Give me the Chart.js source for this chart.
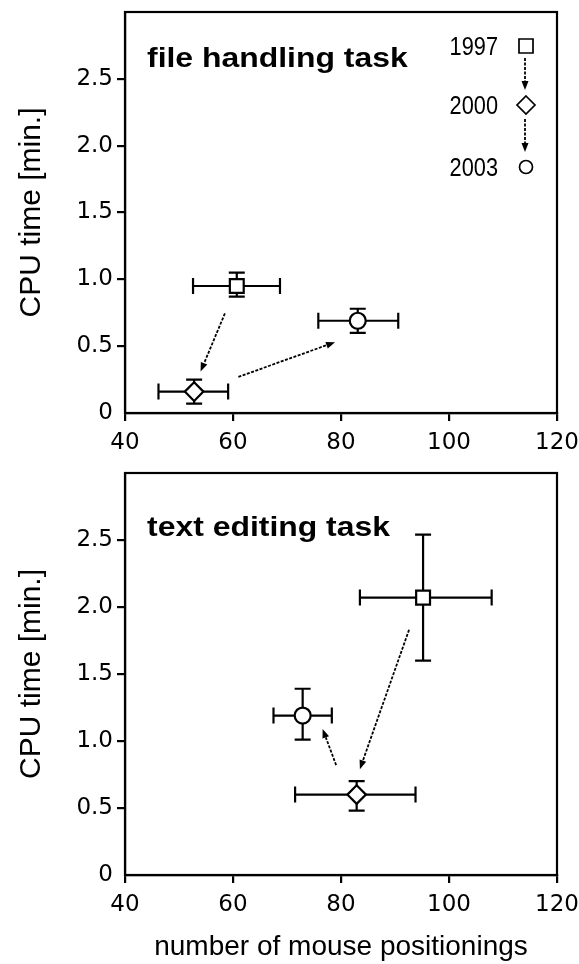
<!DOCTYPE html>
<html>
<head>
<meta charset="utf-8">
<script src="https://cdn.jsdelivr.net/npm/chart.js@4.4.1/dist/chart.umd.min.js"></script>
<style>
body { margin: 0; background: #fff; }
.box { width: 579px; position: relative; }
canvas { display: block; }
</style>
</head>
<body>
<div class="box" style="height:461px"><canvas id="fileChart"></canvas></div>
<div class="box" style="height:503px"><canvas id="textChart"></canvas></div>
<script>
// order of points: 1997, 2000, 2003
const years = ['1997', '2000', '2003'];
const xTicks = [40, 60, 80, 100, 120];
const yTicks = [0, 0.5, 1, 1.5, 2, 2.5];
const yTickLabels = ['0', '0.5', '1.0', '1.5', '2.0', '2.5'];

// file handling task
const fileX     = [60.7, 52.8, 83.1];
const fileY     = [0.95, 0.16, 0.69];
const fileXLow  = [52.6, 46.2, 75.8];
const fileXHigh = [68.7, 59.1, 90.6];
const fileYLow  = [0.87, 0.07, 0.60];
const fileYHigh = [1.05, 0.25, 0.78];
// arrows as [x0, y0, x1, y1] in data units
const fileArrows = [[58.5, 0.745, 54.0, 0.31], [61.0, 0.27, 78.9, 0.53]];

// text editing task
const textX     = [95.2, 82.9, 72.9];
const textY     = [2.07, 0.60, 1.19];
const textXLow  = [83.5, 71.5, 67.5];
const textXHigh = [107.9, 93.8, 78.3];
const textYLow  = [1.60, 0.48, 1.01];
const textYHigh = [2.54, 0.70, 1.39];
const textArrows = [[92.6, 1.83, 83.5, 0.79], [79.1, 0.82, 76.6, 1.09]];

Chart.defaults.font.family = 'DejaVu Sans';
Chart.defaults.color = '#000';

function drawArrow(ctx, x0, y0, x1, y1) {
  const ang = Math.atan2(y1 - y0, x1 - x0);
  const len = 9, half = 3.5;
  const bx = x1 - len * Math.cos(ang), by = y1 - len * Math.sin(ang);
  ctx.lineWidth = 1.8;
  ctx.setLineDash([3, 1.5]);
  ctx.beginPath();
  ctx.moveTo(x0, y0);
  ctx.lineTo(bx, by);
  ctx.stroke();
  ctx.setLineDash([]);
  ctx.beginPath();
  ctx.moveTo(x1, y1);
  ctx.lineTo(bx - half * Math.sin(ang), by + half * Math.cos(ang));
  ctx.lineTo(bx + half * Math.sin(ang), by - half * Math.cos(ang));
  ctx.closePath();
  ctx.fill();
}

function stretchedText(ctx, str, x, y, font, sx, align) {
  ctx.save();
  ctx.font = font;
  ctx.textBaseline = 'alphabetic';
  const w = ctx.measureText(str).width * sx;
  const left = align === 'right' ? x - w : x;
  ctx.translate(left, y);
  ctx.scale(sx, 1);
  ctx.fillText(str, 0, 0);
  ctx.restore();
}

function drawLegend(ctx, a) {
  const tx = a.right - 59, mx = a.right - 31;
  const rows = [a.top + 34, a.top + 93, a.top + 155];
  ctx.lineWidth = 1.7;
  rows.forEach((ry, i) => {
    stretchedText(ctx, years[i], tx, ry + 9, '25px "Liberation Sans"', 0.87, 'right');
    ctx.beginPath();
    if (i === 0) ctx.rect(mx - 7, ry - 7, 14, 14);
    if (i === 1) { ctx.moveTo(mx, ry - 9); ctx.lineTo(mx + 9, ry); ctx.lineTo(mx, ry + 9); ctx.lineTo(mx - 9, ry); ctx.closePath(); }
    if (i === 2) ctx.arc(mx, ry, 6.5, 0, Math.PI * 2);
    ctx.stroke();
  });
  drawArrow(ctx, mx - 1, a.top + 46, mx - 1, a.top + 78);
  drawArrow(ctx, mx - 1, a.top + 107, mx - 1, a.top + 140);
}

function panelPlugin(title, titleDy, xl, xh, yl, yh, xs, ys, arrows, legend) {
  return {
    id: 'panel',
    beforeDatasetsDraw(chart) {
      const { ctx, chartArea: a, scales: { x, y } } = chart;
      ctx.save();
      ctx.strokeStyle = '#000';
      ctx.fillStyle = '#000';
      ctx.lineWidth = 2.2;
      ctx.strokeRect(a.left, a.top, a.right - a.left, a.bottom - a.top);
      const cap = 8;
      for (let i = 0; i < xs.length; i++) {
        const px = x.getPixelForValue(xs[i]), py = y.getPixelForValue(ys[i]);
        const x0 = x.getPixelForValue(xl[i]), x1 = x.getPixelForValue(xh[i]);
        const y0 = y.getPixelForValue(yl[i]), y1 = y.getPixelForValue(yh[i]);
        ctx.beginPath();
        ctx.moveTo(x0, py); ctx.lineTo(x1, py);
        ctx.moveTo(x0, py - cap); ctx.lineTo(x0, py + cap);
        ctx.moveTo(x1, py - cap); ctx.lineTo(x1, py + cap);
        ctx.moveTo(px, y0); ctx.lineTo(px, y1);
        ctx.moveTo(px - cap, y0); ctx.lineTo(px + cap, y0);
        ctx.moveTo(px - cap, y1); ctx.lineTo(px + cap, y1);
        ctx.stroke();
      }
      arrows.forEach(r => drawArrow(ctx,
        x.getPixelForValue(r[0]), y.getPixelForValue(r[1]),
        x.getPixelForValue(r[2]), y.getPixelForValue(r[3])));
      ctx.restore();
    },
    afterDraw(chart) {
      const { ctx, chartArea: a } = chart;
      ctx.save();
      ctx.fillStyle = '#000';
      ctx.strokeStyle = '#000';
      stretchedText(ctx, title, a.left + 22, a.top + titleDy, 'bold 28px "Liberation Sans"', 1.14, 'left');
      if (legend) drawLegend(ctx, a);
      ctx.restore();
    }
  };
}

function makeChart(id, xs, ys, xl, xh, yl, yh, arrows, title, titleDy, xHeight, showXTitle, legend) {
  const pts = xs.map((v, i) => ({ x: v, y: ys[i] }));
  return new Chart(document.getElementById(id), {
    type: 'scatter',
    data: {
      datasets: [{
        data: pts,
        pointStyle: ['rect', 'rectRot', 'circle'],
        pointRadius: [9.8, 9.3, 8],
        pointHoverRadius: [9.8, 9.3, 8],
        backgroundColor: '#fff',
        borderColor: '#000',
        borderWidth: 2.2
      }]
    },
    options: {
      responsive: true,
      maintainAspectRatio: false,
      animation: false,
      events: [],
      layout: { padding: { top: 8, right: 22, left: 0, bottom: 0 } },
      plugins: { legend: { display: false }, tooltip: { enabled: false } },
      scales: {
        x: {
          type: 'linear', min: 40, max: 120,
          afterBuildTicks: s => { s.ticks = xTicks.map(v => ({ value: v })); },
          afterFit: s => { s.height = xHeight; s.paddingLeft = 0; s.paddingRight = 0; },
          grid: { drawOnChartArea: false, drawTicks: true, tickLength: 8, color: '#000', lineWidth: 2.2 },
          border: { display: true, color: '#000', width: 2.2 },
          ticks: { font: { size: 23 }, padding: 8, maxRotation: 0, autoSkip: false },
          title: {
            display: showXTitle, text: 'number of mouse positionings',
            font: { family: 'Liberation Sans', size: 28 }, padding: { top: 0, bottom: 0 }
          }
        },
        y: {
          type: 'linear', min: 0, max: 3,
          afterBuildTicks: s => { s.ticks = yTicks.map(v => ({ value: v })); },
          afterFit: s => { s.width = 125; s.paddingTop = 0; s.paddingBottom = 0; },
          grid: {
            drawOnChartArea: false, drawTicks: true, tickLength: 8, color: '#000', lineWidth: 2.2,
            tickColor: c => (c.tick && c.tick.value === 0) ? 'rgba(0,0,0,0)' : '#000'
          },
          border: { display: true, color: '#000', width: 2.2 },
          ticks: { font: { size: 23 }, padding: 4, callback: v => yTickLabels[yTicks.indexOf(v)] },
          title: {
            display: true, text: 'CPU time [min.]',
            font: { family: 'Liberation Sans', size: 30 }, padding: { top: 14, bottom: 0 }
          }
        }
      }
    },
    plugins: [panelPlugin(title, titleDy, xl, xh, yl, yh, xs, ys, arrows, legend)]
  });
}

makeChart('fileChart', fileX, fileY, fileXLow, fileXHigh, fileYLow, fileYHigh, fileArrows,
  'file handling task', 55, 48, false, true);
makeChart('textChart', textX, textY, textXLow, textXHigh, textYLow, textYHigh, textArrows,
  'text editing task', 63, 89, true, false);
</script>
</body>
</html>
